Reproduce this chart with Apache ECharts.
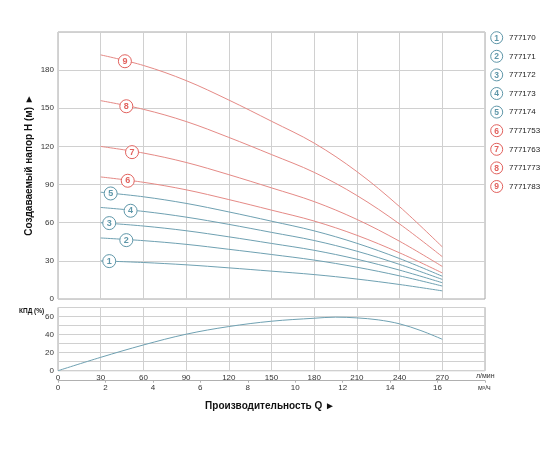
<!DOCTYPE html>
<html><head><meta charset="utf-8">
<script src="https://cdn.jsdelivr.net/npm/echarts@6/dist/echarts.min.js"></script>
<style>html,body{margin:0;padding:0;background:#fff}#c{width:560px;height:460px}</style>
</head><body><div id="c"></div><script>
// Flow points (l/min) for head curves
const flowQ = [30, 60, 90, 120, 150, 180, 210, 240, 270];
// Head values H (m)
const head777170  = [30, 28.7, 26.9, 24.5, 21.9, 19.2, 15.7, 11.4, 6.4];
const head777171  = [48, 45.9, 43.0, 39.1, 35.0, 30.6, 25.0, 18.2, 10.2];
const head777172  = [60, 57.4, 53.7, 48.9, 43.7, 38.3, 31.3, 22.7, 12.8];
const head777173  = [72, 68.9, 64.4, 58.7, 52.4, 46.0, 37.6, 27.2, 15.4];
const head777174  = [84, 80.4, 75.2, 68.5, 61.2, 53.6, 43.8, 31.8, 17.9];
const head7771753 = [96, 91.8, 85.9, 78.2, 69.9, 61.3, 50.1, 36.3, 20.5];
const head7771763 = [120, 114.8, 107.4, 97.8, 87.4, 76.6, 62.6, 45.4, 25.6];
const head7771773 = [156, 149.2, 139.6, 127.1, 113.6, 99.6, 81.4, 59.0, 33.3];
const head7771783 = [192, 183.7, 171.8, 156.5, 139.8, 122.6, 100.2, 72.6, 41.0];
const seriesNames = ['777170','777171','777172','777173','777174','7771753','7771763','7771773','7771783'];
// Badge (number circle) positions on each curve
const badgeQ = [36, 48, 36, 51, 37, 49, 52, 48, 47];
const badgeH = [29.8, 46.3, 59.7, 69.4, 83, 93, 115.5, 151.6, 187];
// Efficiency curve
const effQ = [0, 30, 60, 90, 120, 150, 180, 195, 210, 225, 240, 255, 270];
const effValues = [0, 14.8, 28.5, 40.4, 48.9, 54.8, 58.1, 59.3, 58.5, 56.3, 51.9, 44.4, 34.8];

const headData = [head777170, head777171, head777172, head777173, head777174, head7771753, head7771763, head7771773, head7771783];
const BLUE = '#5f97a9', RED = '#e2625e';
const LBLUE = '#6fa1b2', LRED = '#e58a86';
const colorOf = i => i < 5 ? BLUE : RED;
const lineColorOf = i => i < 5 ? LBLUE : LRED;
const FONT = '"Liberation Sans", Arial, sans-serif';
const gridCol = '#d0d0d0';

const series = headData.map((arr, i) => ({
  name: seriesNames[i], type: 'line', xAxisIndex: 0, yAxisIndex: 0,
  data: flowQ.map((q, j) => [q, arr[j]]),
  smooth: 0.35, symbol: 'none', silent: true,
  lineStyle: { width: 1, color: lineColorOf(i) },
  markPoint: {
    symbol: 'circle', symbolSize: 13, silent: true,
    itemStyle: { color: '#fff', borderColor: colorOf(i), borderWidth: 1 },
    label: { show: true, position: 'inside', formatter: String(i + 1), color: colorOf(i), fontSize: 9, fontWeight: 'bold', fontFamily: FONT },
    data: [{ coord: [badgeQ[i], badgeH[i]] }]
  }
}));
series.push({
  name: 'eff', type: 'line', xAxisIndex: 1, yAxisIndex: 1,
  data: effQ.map((q, j) => [q, effValues[j]]),
  smooth: 0.35, symbol: 'none', silent: true,
  lineStyle: { width: 1, color: LBLUE }
});

const graphic = [
  { type: 'text', x: 29, y: 165, rotation: Math.PI / 2,
    style: { text: 'Создаваемый напор H (м) ►', font: 'bold 10px ' + FONT, fill: '#111', align: 'center', verticalAlign: 'middle' } },
  { type: 'text', x: 270, y: 406,
    style: { text: 'Производительность Q ►', font: 'bold 10px ' + FONT, fill: '#111', align: 'center', verticalAlign: 'middle' } },
  { type: 'text', x: 19, y: 311,
    style: { text: 'КПД (%)', font: 'bold 6.5px ' + FONT, fill: '#111', align: 'left', verticalAlign: 'middle' } },
  { type: 'text', x: 476, y: 376,
    style: { text: 'л/мин', font: '7px ' + FONT, fill: '#333', align: 'left', verticalAlign: 'middle' } },
  { type: 'text', x: 478, y: 388,
    style: { text: 'м³/ч', font: '7px ' + FONT, fill: '#333', align: 'left', verticalAlign: 'middle' } }
];
seriesNames.forEach((nm, i) => {
  const cy = 37.7 + i * 18.6;
  graphic.push({ type: 'circle', shape: { cx: 496.7, cy: cy, r: 6 }, style: { fill: '#fff', stroke: colorOf(i), lineWidth: 1 } });
  graphic.push({ type: 'text', x: 496.7, y: cy + 0.5, style: { text: String(i + 1), font: 'bold 8.5px ' + FONT, fill: colorOf(i), align: 'center', verticalAlign: 'middle' } });
  graphic.push({ type: 'text', x: 509, y: cy, style: { text: nm, font: '8px ' + FONT, fill: '#222', align: 'left', verticalAlign: 'middle' } });
});

const labelStyle = { fontSize: 8, color: '#333', fontFamily: FONT };
const option = {
  animation: false,
  backgroundColor: '#fff',
  grid: [
    { left: 58, top: 32, width: 427, height: 267, show: true, borderColor: '#a8a8a8', borderWidth: 1 },
    { left: 58, top: 307.5, width: 427, height: 63.2, show: true, borderColor: '#a8a8a8', borderWidth: 1 }
  ],
  xAxis: [
    { gridIndex: 0, type: 'value', min: 0, max: 300, interval: 30,
      axisLabel: { show: false }, axisLine: { show: false }, axisTick: { show: false },
      splitLine: { lineStyle: { color: gridCol, width: 1 } } },
    { gridIndex: 1, type: 'value', min: 0, max: 300, interval: 30,
      axisLabel: Object.assign({ margin: 3, formatter: v => v >= 300 ? '' : String(v) }, labelStyle),
      axisLine: { show: false }, axisTick: { show: false },
      splitLine: { lineStyle: { color: gridCol, width: 1 } } },
    { gridIndex: 1, type: 'value', position: 'bottom', offset: 10, min: 0, max: 18, interval: 2,
      axisLabel: Object.assign({ margin: 3, formatter: v => v >= 18 ? '' : String(v) }, labelStyle),
      axisLine: { show: true, onZero: false, lineStyle: { color: '#b0b0b0', width: 1 } },
      axisTick: { show: true, length: 2, lineStyle: { color: '#b0b0b0' } },
      splitLine: { show: false } }
  ],
  yAxis: [
    { gridIndex: 0, type: 'value', min: 0, max: 210, interval: 30,
      axisLabel: Object.assign({ margin: 4, formatter: v => v >= 210 ? '' : String(v) }, labelStyle),
      axisLine: { show: false }, axisTick: { show: false },
      splitLine: { lineStyle: { color: gridCol, width: 1 } } },
    { gridIndex: 1, type: 'value', min: 0, max: 70, interval: 10,
      axisLabel: Object.assign({ margin: 4, formatter: v => (v % 20 === 0 && v < 70) ? String(v) : '' }, labelStyle),
      axisLine: { show: false }, axisTick: { show: false },
      splitLine: { lineStyle: { color: gridCol, width: 1 } } }
  ],
  graphic: graphic,
  series: series
};
const chart = echarts.init(document.getElementById('c'), null, { renderer: 'canvas' });
chart.setOption(option);
</script></body></html>
